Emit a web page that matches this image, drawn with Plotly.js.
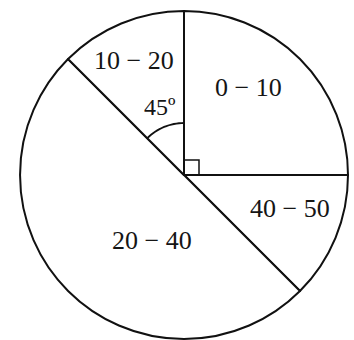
<!DOCTYPE html>
<html><head><meta charset="utf-8">
<script src="https://cdn.plot.ly/plotly-3.0.1.min.js"></script>
<style>html,body{margin:0;padding:0;background:#fff}#c{width:354px;height:340px}</style>
</head><body><div id="c"></div>
<script>
var categories = ["0 − 10", "40 − 50", "20 − 40", "10 − 20"];
var angles = [90, 45, 180, 45];
var angleLabel = "45º";

var W = 354, H = 340;
var cx = 184, cy = 175, R = 164;
function px(x){return x / W;}
function py(y){return 1 - y / H;}

// label placement (pixel centres), style only
var labelPos = [[248, 88], [290, 208], [152, 240], [134, 60]];

var ar = 52, pts = [];
for (var i = 0; i <= 16; i++) {
  var a = (-45 + 45 * i / 16) * Math.PI / 180;
  pts.push([cx + ar * Math.sin(a), cy - ar * Math.cos(a)]);
}
var arcPath = pts.map(function(p, i){return (i ? "L" : "M") + px(p[0]).toFixed(4) + "," + py(p[1]).toFixed(4);}).join(" ");
var sq = 15;
var font = {family: "Liberation Serif", size: 26, color: "#151515"};

var data = [{
  type: "pie",
  values: angles,
  labels: categories,
  sort: false,
  direction: "clockwise",
  rotation: 0,
  textinfo: "none",
  marker: {colors: ["#fff", "#fff", "#fff", "#fff"], line: {color: "#111", width: 2}},
  domain: {x: [px(cx - R), px(cx + R)], y: [py(cy + R), py(cy - R)]},
  hoverinfo: "none"
}];

var annotations = categories.map(function(c, i){
  return {text: c, xref: "paper", yref: "paper", x: px(labelPos[i][0]), y: py(labelPos[i][1]),
          xanchor: "center", yanchor: "middle", showarrow: false, font: font};
});
annotations.push({text: angleLabel, xref: "paper", yref: "paper", x: px(160), y: py(107),
  xanchor: "center", yanchor: "middle", showarrow: false, font: {family: "Liberation Serif", size: 24, color: "#151515"}});

var layout = {
  width: W, height: H,
  margin: {l: 0, r: 0, t: 0, b: 0},
  paper_bgcolor: "#fff",
  showlegend: false,
  shapes: [
    {type: "path", xref: "paper", yref: "paper", path: arcPath, line: {color: "#111", width: 1.8}},
    {type: "rect", xref: "paper", yref: "paper", x0: px(cx), x1: px(cx + sq), y0: py(cy), y1: py(cy - sq), line: {color: "#111", width: 1.5}}
  ],
  annotations: annotations
};
Plotly.newPlot("c", data, layout, {staticPlot: true});
</script></body></html>
